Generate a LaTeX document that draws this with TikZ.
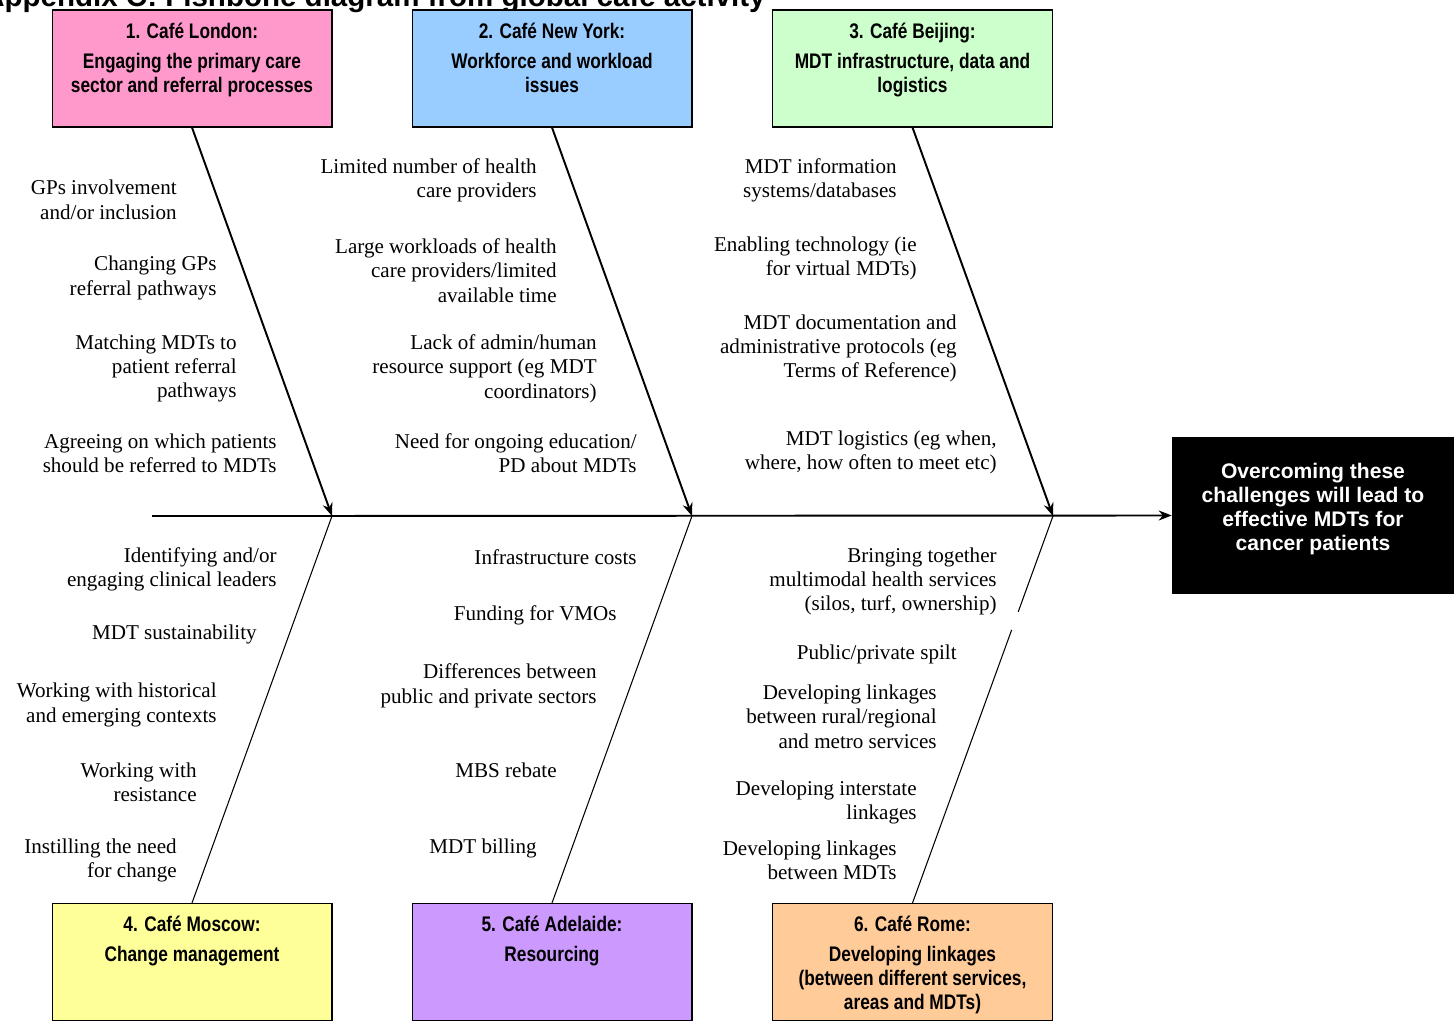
\documentclass[tikz,border=0pt]{standalone}
\usepackage{fontspec}
\setmainfont{Liberation Serif}
\newfontfamily\narrowSans[FakeStretch=0.82]{Liberation Sans}
\newfontfamily\plainSans{Liberation Sans}
\usepackage{xcolor}
\usepackage{tikz}
\usetikzlibrary{positioning,calc,arrows.meta}
\definecolor{londonPink}{HTML}{FF99CC}
\definecolor{newYorkBlue}{HTML}{99CCFF}
\definecolor{beijingGreen}{HTML}{CCFFCC}
\definecolor{moscowYellow}{HTML}{FFFF99}
\definecolor{adelaideLilac}{HTML}{CC99FF}
\definecolor{romeOrange}{HTML}{FFCC99}
\tikzset{
  cafeBox/.style={
    rectangle,
    draw=black,
    line width=0.6pt,
    minimum width=5.6cm,
    minimum height=2.34cm
  },
  cafeText/.style={
    align=center,
    inner sep=0pt,
    font=\narrowSans\bfseries\fontsize{12}{13.6}\selectfont
  },
  goalBox/.style={
    rectangle,
    fill=black,
    minimum width=5.64cm,
    minimum height=3.14cm
  },
  goalText/.style={
    align=center,
    inner sep=0pt,
    text=white,
    font=\plainSans\bfseries\fontsize{12}{13.6}\selectfont
  },
  causeText/.style={
    anchor=east,
    align=right,
    inner sep=0pt,
    yshift=-0.05cm,
    font=\fontsize{12}{13.9}\selectfont
  },
  boneArrow/.style={
    -{Stealth[length=2.6mm,width=2mm]},
    line width=1.1pt
  },
  boneLine/.style={
    line width=0.6pt
  }
}

\begin{document}
\begin{tikzpicture}[x=0.02cm, y=-0.02cm]
        \useasboundingbox (0,0) rectangle (1454,1027);

        \node[anchor=base east, inner sep=0pt, font=\plainSans\bfseries\fontsize{16.8}{18}\selectfont] (pageTitle) at (766,6.5) {Appendix C: Fishbone diagram from global café activity};

        % cafe boxes
        \node[cafeBox, fill=londonPink] (londonBox) at (192,68.5) {};
        \node[cafeBox, fill=newYorkBlue] (newYorkBox) at (552,68.5) {};
        \node[cafeBox, fill=beijingGreen] (beijingBox) at (912.5,68.5) {};
        \node[cafeBox, fill=moscowYellow] (moscowBox) at (192,962) {};
        \node[cafeBox, fill=adelaideLilac] (adelaideBox) at (552,962) {};
        \node[cafeBox, fill=romeOrange] (romeBox) at (912.5,962) {};

        \node[cafeText, below=0.26cm of londonBox.north] (londonText) {1. Café London:\\[0.12cm]Engaging the primary care\\sector and referral processes};
        \node[cafeText, below=0.26cm of newYorkBox.north] (newYorkText) {2. Café New York:\\[0.12cm]Workforce and workload\\issues};
        \node[cafeText, below=0.26cm of beijingBox.north] (beijingText) {3. Café Beijing:\\[0.12cm]MDT infrastructure, data and\\logistics};
        \node[cafeText, below=0.26cm of moscowBox.north] (moscowText) {4. Café Moscow:\\[0.12cm]Change management};
        \node[cafeText, below=0.26cm of adelaideBox.north] (adelaideText) {5. Café Adelaide:\\[0.12cm]Resourcing};
        \node[cafeText, below=0.26cm of romeBox.north] (romeText) {6. Café Rome:\\[0.12cm]Developing linkages\\(between different services,\\areas and MDTs)};

        \node[goalBox] (goalBox) at (1313,515.5) {};
        \node[goalText] (goalLabel) at (1313,509) {Overcoming these\\challenges will lead to\\effective MDTs for\\cancer patients};

        % spine and bones
        \coordinate (spineStart) at (152,516);
        \coordinate (spineMid) at (292,516);
        \coordinate (j1) at (332,516);
        \coordinate (j2) at (692,516);
        \coordinate (j3) at (1053,516);

        \draw[line width=0.6pt] (spineStart) -- (spineMid);
        \draw[boneArrow] (spineMid) -- (goalBox.west);

        \draw[boneArrow] (londonBox.south) -- (j1);
        \draw[boneArrow] (newYorkBox.south) -- (j2);
        \draw[boneArrow] (beijingBox.south) -- (j3);
        \draw[boneLine] (j1) -- (moscowBox.north);
        \draw[boneLine] (j2) -- (adelaideBox.north);
        \draw[boneLine] (j3) -- (romeBox.north);
        \draw[white, line width=2pt] ($(j3)!0.248!(romeBox.north)$) -- ($(j3)!0.294!(romeBox.north)$);

        % causes, top
        \node[causeText] (gpsInvolve) at (177,197.5) {GPs involvement\\and/or inclusion};
        \node[causeText] (gpsPathways) at (217,275.5) {Changing GPs\\referral pathways};
        \node[causeText] (matchingMdts) at (237,366) {Matching MDTs to\\patient referral\\pathways};
        \node[causeText] (agreeingPatients) at (277,450.5) {Agreeing on which patients\\should be referred to MDTs};

        \node[causeText] (limitedProviders) at (537,178) {Limited number of health\\care providers};
        \node[causeText] (largeWorkloads) at (557,268) {Large workloads of health\\care providers/limited\\available time};
        \node[causeText] (adminSupport) at (597,366) {Lack of admin/human\\resource support (eg MDT\\coordinators)};
        \node[causeText] (ongoingEducation) at (637,450.5) {Need for ongoing education/\\PD about MDTs};

        \node[causeText] (infoSystems) at (897,178) {MDT information\\systems/databases};
        \node[causeText] (enablingTech) at (917,256) {Enabling technology (ie\\for virtual MDTs)};
        \node[causeText] (documentation) at (957,346) {MDT documentation and\\administrative protocols (eg\\Terms of Reference)};
        \node[causeText] (logistics) at (997,450) {MDT logistics (eg when,\\where, how often to meet etc)};

        % causes, bottom
        \node[causeText] (clinicalLeaders) at (277,567) {Identifying and/or\\engaging clinical leaders};
        \node[causeText] (sustainability) at (257,632) {MDT sustainability};
        \node[causeText] (contexts) at (217,702.5) {Working with historical\\and emerging contexts};
        \node[causeText] (resistance) at (197,780) {Working with\\resistance};
        \node[causeText] (needChange) at (177,858) {Instilling the need\\for change};

        \node[causeText] (infraCosts) at (637,555) {Infrastructure costs};
        \node[causeText] (fundingVmos) at (617,613) {Funding for VMOs};
        \node[causeText] (sectorDiffs) at (597,683.5) {Differences between\\public and private sectors};
        \node[causeText] (mbsRebate) at (557,768) {MBS rebate};
        \node[causeText] (mdtBilling) at (537,846) {MDT billing};

        \node[causeText] (bringingTogether) at (997,579) {Bringing together\\multimodal health services\\(silos, turf, ownership)};
        \node[causeText] (publicPrivate) at (957,652) {Public/private spilt};
        \node[causeText] (ruralMetro) at (937,714) {Developing linkages\\between rural/regional\\and metro services};
        \node[causeText] (interstate) at (917,800) {Developing interstate\\linkages};
        \node[causeText] (betweenMdts) at (897,858) {Developing linkages\\between MDTs};
    \end{tikzpicture}
\end{document}
